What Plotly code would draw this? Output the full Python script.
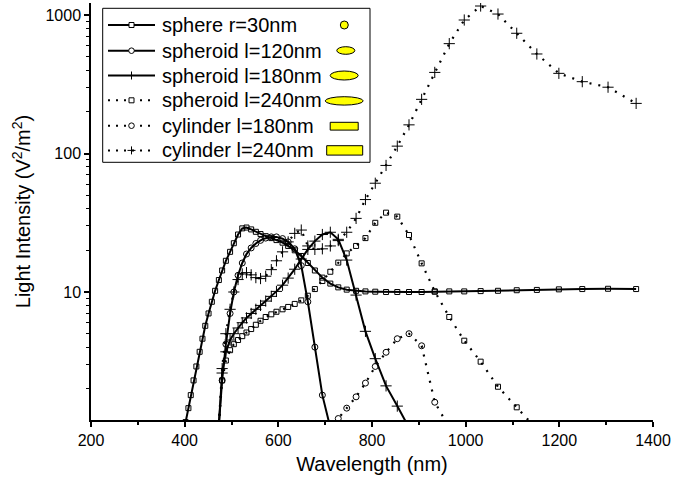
import plotly.graph_objects as go

# ---------------- data ----------------
SPHERE_WL = [402, 408, 413, 419, 425, 432, 438, 444, 451, 458, 465, 473, 480, 488, 497, 505,
             514, 523, 532, 542, 552, 562, 573, 585, 596, 609, 621, 635, 649, 663, 678, 694,
             711, 728, 746, 766, 786, 807, 830, 854, 879, 906, 934, 965, 997, 1032, 1069,
             1109, 1152, 1199, 1249, 1304, 1364]
SPHERE_I = [1.15, 1.45, 1.8, 2.3, 2.9, 3.7, 4.6, 5.7, 7.0, 8.5, 10.2, 12.2, 14.3, 16.8, 19.5, 22.5,
            26.0, 28.8, 29.2, 28.3, 27.2, 26.2, 25.3, 24.5, 23.7, 22.7, 21.5, 20.0, 18.2, 16.2, 14.3, 12.7,
            11.5, 10.8, 10.4, 10.2, 10.1, 10.05, 10.0, 10.0, 10.0, 10.0, 10.05, 10.1, 10.1, 10.15, 10.2,
            10.3, 10.35, 10.45, 10.5, 10.55, 10.5]

SPH120_WL = [473, 480, 488, 497, 505, 514, 523, 532, 542, 552, 562, 573, 585, 596, 609, 621,
             635, 649, 663, 678, 694, 711]
SPH120_I = [1.1, 2.3, 4.2, 7.0, 10.0, 13.2, 16.2, 18.8, 20.8, 22.4, 23.6, 24.5, 25.0, 25.0, 24.3, 23.0,
            20.5, 15.5, 8.5, 4.0, 1.8, 1.05]

SPH180_WL = [473, 480, 488, 497, 505, 514, 523, 532, 542, 552, 562, 573, 585, 596, 609, 621,
             635, 649, 663, 678, 694, 711, 728, 746, 766, 786, 807, 830, 854, 879]
SPH180_I = [1.1, 2.6, 3.7, 4.5, 5.0, 5.5, 6.0, 6.5, 7.0, 7.5, 8.0, 8.6, 9.3, 10.1, 11.2, 12.6,
            14.6, 17.3, 20.3, 23.3, 26.0, 27.0, 24.0, 17.0, 9.5, 5.2, 3.3, 2.1, 1.5, 1.05]

SPH240_WL = [473, 480, 488, 497, 505, 514, 523, 532, 542, 552, 562, 573, 585, 596, 609, 621,
             635, 649, 663, 678, 694, 711, 728, 746, 766, 786, 807, 830, 854, 879, 906, 934,
             965, 997, 1032, 1069, 1109, 1152]
SPH240_I = [1.1, 2.3, 3.2, 3.8, 4.2, 4.5, 4.8, 5.1, 5.4, 5.8, 6.2, 6.6, 6.9, 7.2, 7.5, 7.8,
            8.2, 8.7, 9.4, 10.5, 12.0, 14.0, 16.3, 19.0, 21.5, 24.5, 31.6, 37.4, 35.0, 25.8, 16.1, 10.1,
            6.6, 4.45, 3.14, 2.07, 1.47, 1.02]

CYL180_WL = [711, 728, 746, 766, 786, 807, 830, 854, 879, 906, 934, 965]
CYL180_I = [1.0, 1.22, 1.45, 1.75, 2.2, 2.9, 3.67, 4.6, 5.0, 4.09, 1.6, 1.05]

CYL240_WL = [473, 480, 488, 497, 505, 514, 523, 532, 542, 552, 562, 573, 585, 596, 609, 621,
             635, 649, 663, 678, 694, 711, 728, 746, 766, 786, 807, 830, 854, 879, 906, 934,
             965, 997, 1032, 1069, 1109, 1152, 1199, 1249, 1304, 1364]
CYL240_I = [1.1, 2.8, 5.0, 7.5, 10.0, 12.3, 13.5, 13.8, 13.3, 12.7, 12.5, 13.0, 14.5, 16.8, 19.5, 23.0,
            26.5, 28.0, 21.5, 20.3, 20.5, 21.5, 23.5, 27.0, 34.0, 46.5, 61.0, 82.0, 113, 161, 246, 385,
            621, 920, 1161, 1016, 738, 523, 379, 330, 301, 230]

NAMES = ["sphere r=30nm", "spheroid l=120nm", "spheroid l=180nm",
         "spheroid l=240nm", "cylinder l=180nm", "cylinder l=240nm"]

X_TICKS = [200, 400, 600, 800, 1000, 1200, 1400]
Y_TICKS = [10, 100, 1000]
Y_TICK_TEXT = ["10", "100", "1000"]

# ---------------- styling ----------------
FONT = "Liberation Sans, Arial, sans-serif"
DOT = "2px,7px"
series = [
    (SPHERE_WL, SPHERE_I, "solid", "square-open", 5),
    (SPH120_WL, SPH120_I, "solid", "circle-open", 6),
    (SPH180_WL, SPH180_I, "solid", "cross-thin-open", 8),
    (SPH240_WL, SPH240_I, DOT, "square-open", 5),
    (CYL180_WL, CYL180_I, DOT, "circle-open", 6),
    (CYL240_WL, CYL240_I, DOT, "cross-thin-open", 8),
]

fig = go.Figure()
for name, (wl, val, dash, sym, size) in zip(NAMES, series):
    fig.add_trace(go.Scatter(
        x=wl, y=val, name=name, mode="lines+markers", showlegend=False,
        line=dict(color="black", width=2 if dash == "solid" else 2.2, dash=dash),
        marker=dict(symbol=sym, size=size, color="black", line=dict(width=1, color="black")),
    ))

# plot area in pixels
L, R, T, B = 91, 653, 3, 420
W, H = 675, 484


def px(xp):
    return (xp - L) / (R - L)


def py(yp):
    return 1 - (yp - T) / (B - T)


shapes = []
annotations = []
# legend frame
shapes.append(dict(type="rect", xref="paper", yref="paper",
                   x0=px(102.7), x1=px(370), y0=py(162.3), y1=py(8.3),
                   line=dict(color="black", width=1), fillcolor="rgba(0,0,0,0)", layer="above"))
rows = [25, 50.7, 75.5, 100.3, 125.7, 150.4]
mx = 131.5
for i, (name, (wl, val, dash, sym, size)) in enumerate(zip(NAMES, series)):
    yc = rows[i]
    shapes.append(dict(type="line", xref="paper", yref="paper",
                       x0=px(108), x1=px(155), y0=py(yc), y1=py(yc),
                       line=dict(color="black", width=2, dash=("solid" if dash == "solid" else "2px,6px")),
                       layer="above"))
    if sym.startswith("square"):
        shapes.append(dict(type="rect", xref="paper", yref="paper",
                           x0=px(mx - 2.5), x1=px(mx + 2.5), y0=py(yc + 2.5), y1=py(yc - 2.5),
                           line=dict(color="black", width=1), fillcolor="white", layer="above"))
    elif sym.startswith("circle"):
        shapes.append(dict(type="circle", xref="paper", yref="paper",
                           x0=px(mx - 2.8), x1=px(mx + 2.8), y0=py(yc + 2.8), y1=py(yc - 2.8),
                           line=dict(color="black", width=1), fillcolor="white", layer="above"))
    else:
        shapes.append(dict(type="line", xref="paper", yref="paper",
                           x0=px(mx), x1=px(mx), y0=py(yc + 4), y1=py(yc - 4),
                           line=dict(color="black", width=1), layer="above"))
        shapes.append(dict(type="line", xref="paper", yref="paper",
                           x0=px(mx - 4), x1=px(mx + 4), y0=py(yc), y1=py(yc),
                           line=dict(color="black", width=1), layer="above"))
    annotations.append(dict(text=name, xref="paper", yref="paper", x=px(160), y=py(yc),
                            xanchor="left", yanchor="middle", showarrow=False,
                            font=dict(family=FONT, size=20, color="black")))

# yellow particle icons
icons = [
    ("circle", 344.3, 25.0, 4.0, 4.0),
    ("circle", 345.8, 50.5, 9.0, 3.8),
    ("circle", 344.2, 75.5, 14.0, 4.5),
    ("circle", 344.2, 100.9, 19.0, 4.2),
    ("rect", 344.2, 126.2, 14.0, 3.9),
    ("rect", 344.7, 150.4, 18.0, 4.7),
]
for kind, cx, cy, rx, ry in icons:
    shapes.append(dict(type=kind, xref="paper", yref="paper",
                       x0=px(cx - rx), x1=px(cx + rx), y0=py(cy + ry), y1=py(cy - ry),
                       line=dict(color="black", width=1), fillcolor="#FFFF00", layer="above"))

minor_y = [v * m for m in (1, 10, 100) for v in range(2, 10)]
fig.update_layout(
    width=W, height=H, autosize=False,
    margin=dict(l=L, r=W - R, t=T, b=H - B),
    paper_bgcolor="white", plot_bgcolor="white",
    font=dict(family=FONT, color="black"),
    shapes=shapes, annotations=annotations,
    xaxis=dict(
        range=[200, 1400], tickvals=X_TICKS, ticks="outside", ticklen=5, tickwidth=1.5,
        tickcolor="black", showline=True, linecolor="black", linewidth=1.5,
        showgrid=False, zeroline=False, tickfont=dict(size=16, family=FONT),
        minor=dict(tickvals=[300, 500, 700, 900, 1100, 1300], ticks="outside", ticklen=3,
                   tickwidth=1.5, tickcolor="black", showgrid=False),
        title=dict(text="Wavelength (nm)", font=dict(size=20, family=FONT), standoff=9),
    ),
    yaxis=dict(
        type="log", range=[0.0758, 3.0866], tickvals=Y_TICKS, ticktext=Y_TICK_TEXT,
        ticks="outside", ticklen=5, tickwidth=1.5, tickcolor="black",
        showline=True, linecolor="black", linewidth=1.5, showgrid=False, zeroline=False,
        tickfont=dict(size=16, family=FONT),
        minor=dict(tickvals=minor_y, ticks="outside", ticklen=3, tickwidth=1.2,
                   tickcolor="black", showgrid=False),
        title=dict(text="Light Intensity (V<sup>2</sup>/m<sup>2</sup>)",
                   font=dict(size=20, family=FONT), standoff=9),
    ),
)

fig.write_html("out.html")
